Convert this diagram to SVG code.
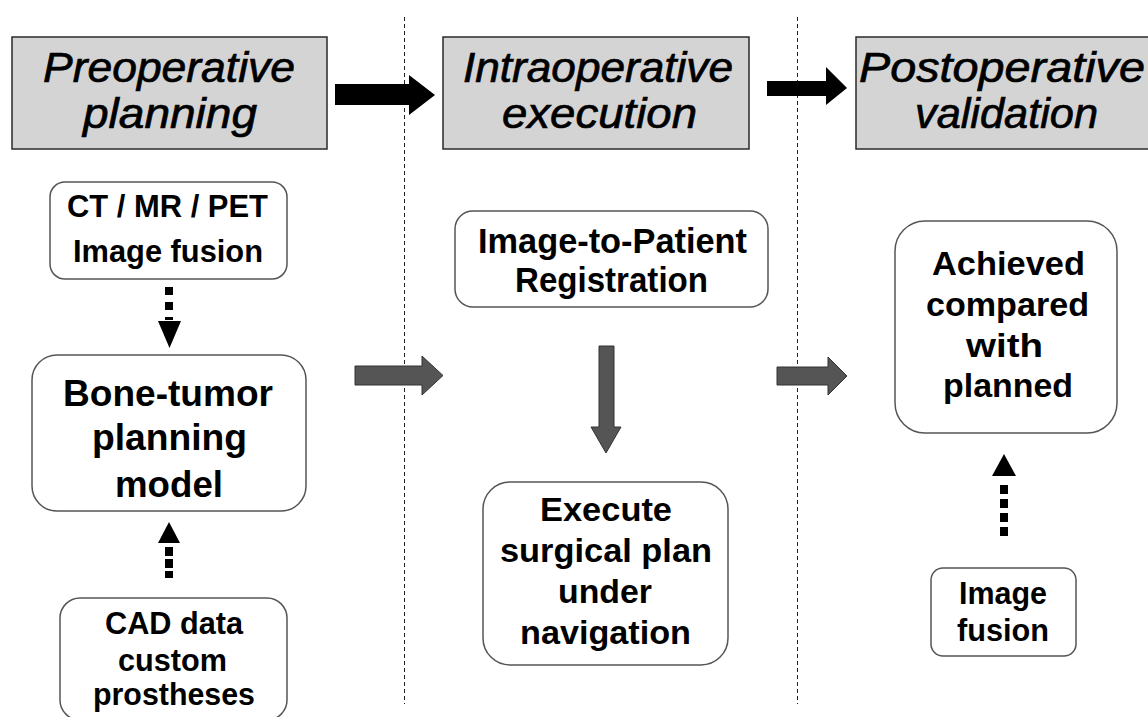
<svg xmlns="http://www.w3.org/2000/svg" width="1148" height="717" viewBox="0 0 1148 717">
<style>
.hdr{fill:#d4d4d4;stroke:#2a2a2a;stroke-width:1.5}
.node{fill:#fff;stroke:#555;stroke-width:1.5}
.ht{font-family:"Liberation Sans",Arial,sans-serif;font-style:italic;font-size:42px;fill:#000;stroke:#000;stroke-width:0.7;text-anchor:start}
.t{font-family:"Liberation Sans",Arial,sans-serif;font-weight:bold;fill:#000;text-anchor:start}
.sep{stroke:#222;stroke-width:1;stroke-dasharray:4 3;fill:none}
.blk{fill:#000}
.gry{fill:#555;stroke:#333;stroke-width:1}
.dash{stroke:#000;stroke-width:8;fill:none}
</style>
<rect width="1148" height="717" fill="#fff"/>
<g id="separators">
<line class="sep" x1="404.5" y1="17" x2="404.5" y2="704"/>
<line class="sep" x1="797.5" y1="17" x2="797.5" y2="704"/>
</g>
<g id="hdr-pre">
<rect class="hdr" x="12" y="37" width="315" height="112"/>
<text class="ht" x="43" y="82" textLength="252" lengthAdjust="spacingAndGlyphs">Preoperative</text>
<text class="ht" x="83" y="128" textLength="174" lengthAdjust="spacingAndGlyphs">planning</text>
</g>
<g id="hdr-intra">
<rect class="hdr" x="443" y="37" width="306" height="112"/>
<text class="ht" x="463" y="82" textLength="270" lengthAdjust="spacingAndGlyphs">Intraoperative</text>
<text class="ht" x="502" y="128" textLength="195" lengthAdjust="spacingAndGlyphs">execution</text>
</g>
<g id="hdr-post">
<rect class="hdr" x="856" y="37" width="310" height="112"/>
<text class="ht" x="859" y="82" textLength="286" lengthAdjust="spacingAndGlyphs">Postoperative</text>
<text class="ht" x="915" y="128" textLength="183" lengthAdjust="spacingAndGlyphs">validation</text>
</g>
<g id="n-ct">
<rect class="node" x="50" y="182" width="237" height="97" rx="15"/>
<text class="t" font-size="31" x="67" y="217" textLength="201" lengthAdjust="spacingAndGlyphs">CT / MR / PET</text>
<text class="t" font-size="31" x="73" y="262" textLength="190" lengthAdjust="spacingAndGlyphs">Image fusion</text>
</g>
<g id="n-bone">
<rect class="node" x="32" y="355" width="274" height="156" rx="25"/>
<text class="t" font-size="37" x="63" y="406" textLength="210" lengthAdjust="spacingAndGlyphs">Bone-tumor</text>
<text class="t" font-size="37" x="92" y="450" textLength="155" lengthAdjust="spacingAndGlyphs">planning</text>
<text class="t" font-size="37" x="115" y="497" textLength="108" lengthAdjust="spacingAndGlyphs">model</text>
</g>
<g id="n-cad">
<rect class="node" x="60" y="598" width="227" height="122" rx="20"/>
<text class="t" font-size="31" x="105" y="634" textLength="138" lengthAdjust="spacingAndGlyphs">CAD data</text>
<text class="t" font-size="31" x="118" y="671" textLength="109" lengthAdjust="spacingAndGlyphs">custom</text>
<text class="t" font-size="31" x="93" y="705" textLength="162" lengthAdjust="spacingAndGlyphs">prostheses</text>
</g>
<g id="n-reg">
<rect class="node" x="455" y="211" width="313" height="96" rx="18"/>
<text class="t" font-size="35" x="478" y="253" textLength="269" lengthAdjust="spacingAndGlyphs">Image-to-Patient</text>
<text class="t" font-size="35" x="515" y="292" textLength="193" lengthAdjust="spacingAndGlyphs">Registration</text>
</g>
<g id="n-exec">
<rect class="node" x="483" y="482" width="245" height="183" rx="27"/>
<text class="t" font-size="34" x="540" y="521" textLength="132" lengthAdjust="spacingAndGlyphs">Execute</text>
<text class="t" font-size="34" x="500" y="562" textLength="212" lengthAdjust="spacingAndGlyphs">surgical plan</text>
<text class="t" font-size="34" x="558" y="603" textLength="94" lengthAdjust="spacingAndGlyphs">under</text>
<text class="t" font-size="34" x="520" y="644" textLength="171" lengthAdjust="spacingAndGlyphs">navigation</text>
</g>
<g id="n-ach">
<rect class="node" x="895" y="221" width="222" height="212" rx="30"/>
<text class="t" font-size="34" x="932" y="275" textLength="153" lengthAdjust="spacingAndGlyphs">Achieved</text>
<text class="t" font-size="34" x="926" y="316" textLength="163" lengthAdjust="spacingAndGlyphs">compared</text>
<text class="t" font-size="34" x="966" y="357" textLength="77" lengthAdjust="spacingAndGlyphs">with</text>
<text class="t" font-size="34" x="943" y="397" textLength="130" lengthAdjust="spacingAndGlyphs">planned</text>
</g>
<g id="n-fus">
<rect class="node" x="931" y="568" width="145" height="88" rx="12"/>
<text class="t" font-size="31" x="959" y="604" textLength="88" lengthAdjust="spacingAndGlyphs">Image</text>
<text class="t" font-size="31" x="957" y="641" textLength="92" lengthAdjust="spacingAndGlyphs">fusion</text>
</g>
<g id="connectors">
<polygon class="blk" points="335,84 409,84 409,75 435,95 409,115 409,105 335,105"/>
<polygon class="blk" points="767,81 826,81 826,67 847,88 826,105 826,96 767,96"/>
<polygon class="gry" points="355,366 422,366 422,356 443,375.5 422,395 422,385 355,385"/>
<polygon class="gry" points="777,367 828,367 828,357 847,376 828,395 828,385 777,385"/>
<polygon class="gry" points="599,346 614,346 614,427 621,427 606,453 591,427 599,427"/>
<line class="dash" x1="169" y1="287" x2="169" y2="320" stroke-dasharray="8 7"/>
<polygon class="blk" points="158,321 181,321 169.5,348"/>
<line class="dash" x1="169" y1="547" x2="169" y2="578" stroke-dasharray="9 3"/>
<polygon class="blk" points="158,543 180,543 169,522"/>
<line class="dash" x1="1004" y1="485" x2="1004" y2="540" stroke-dasharray="9 5"/>
<polygon class="blk" points="992,476 1016,476 1004,454"/>
</g>
</svg>
